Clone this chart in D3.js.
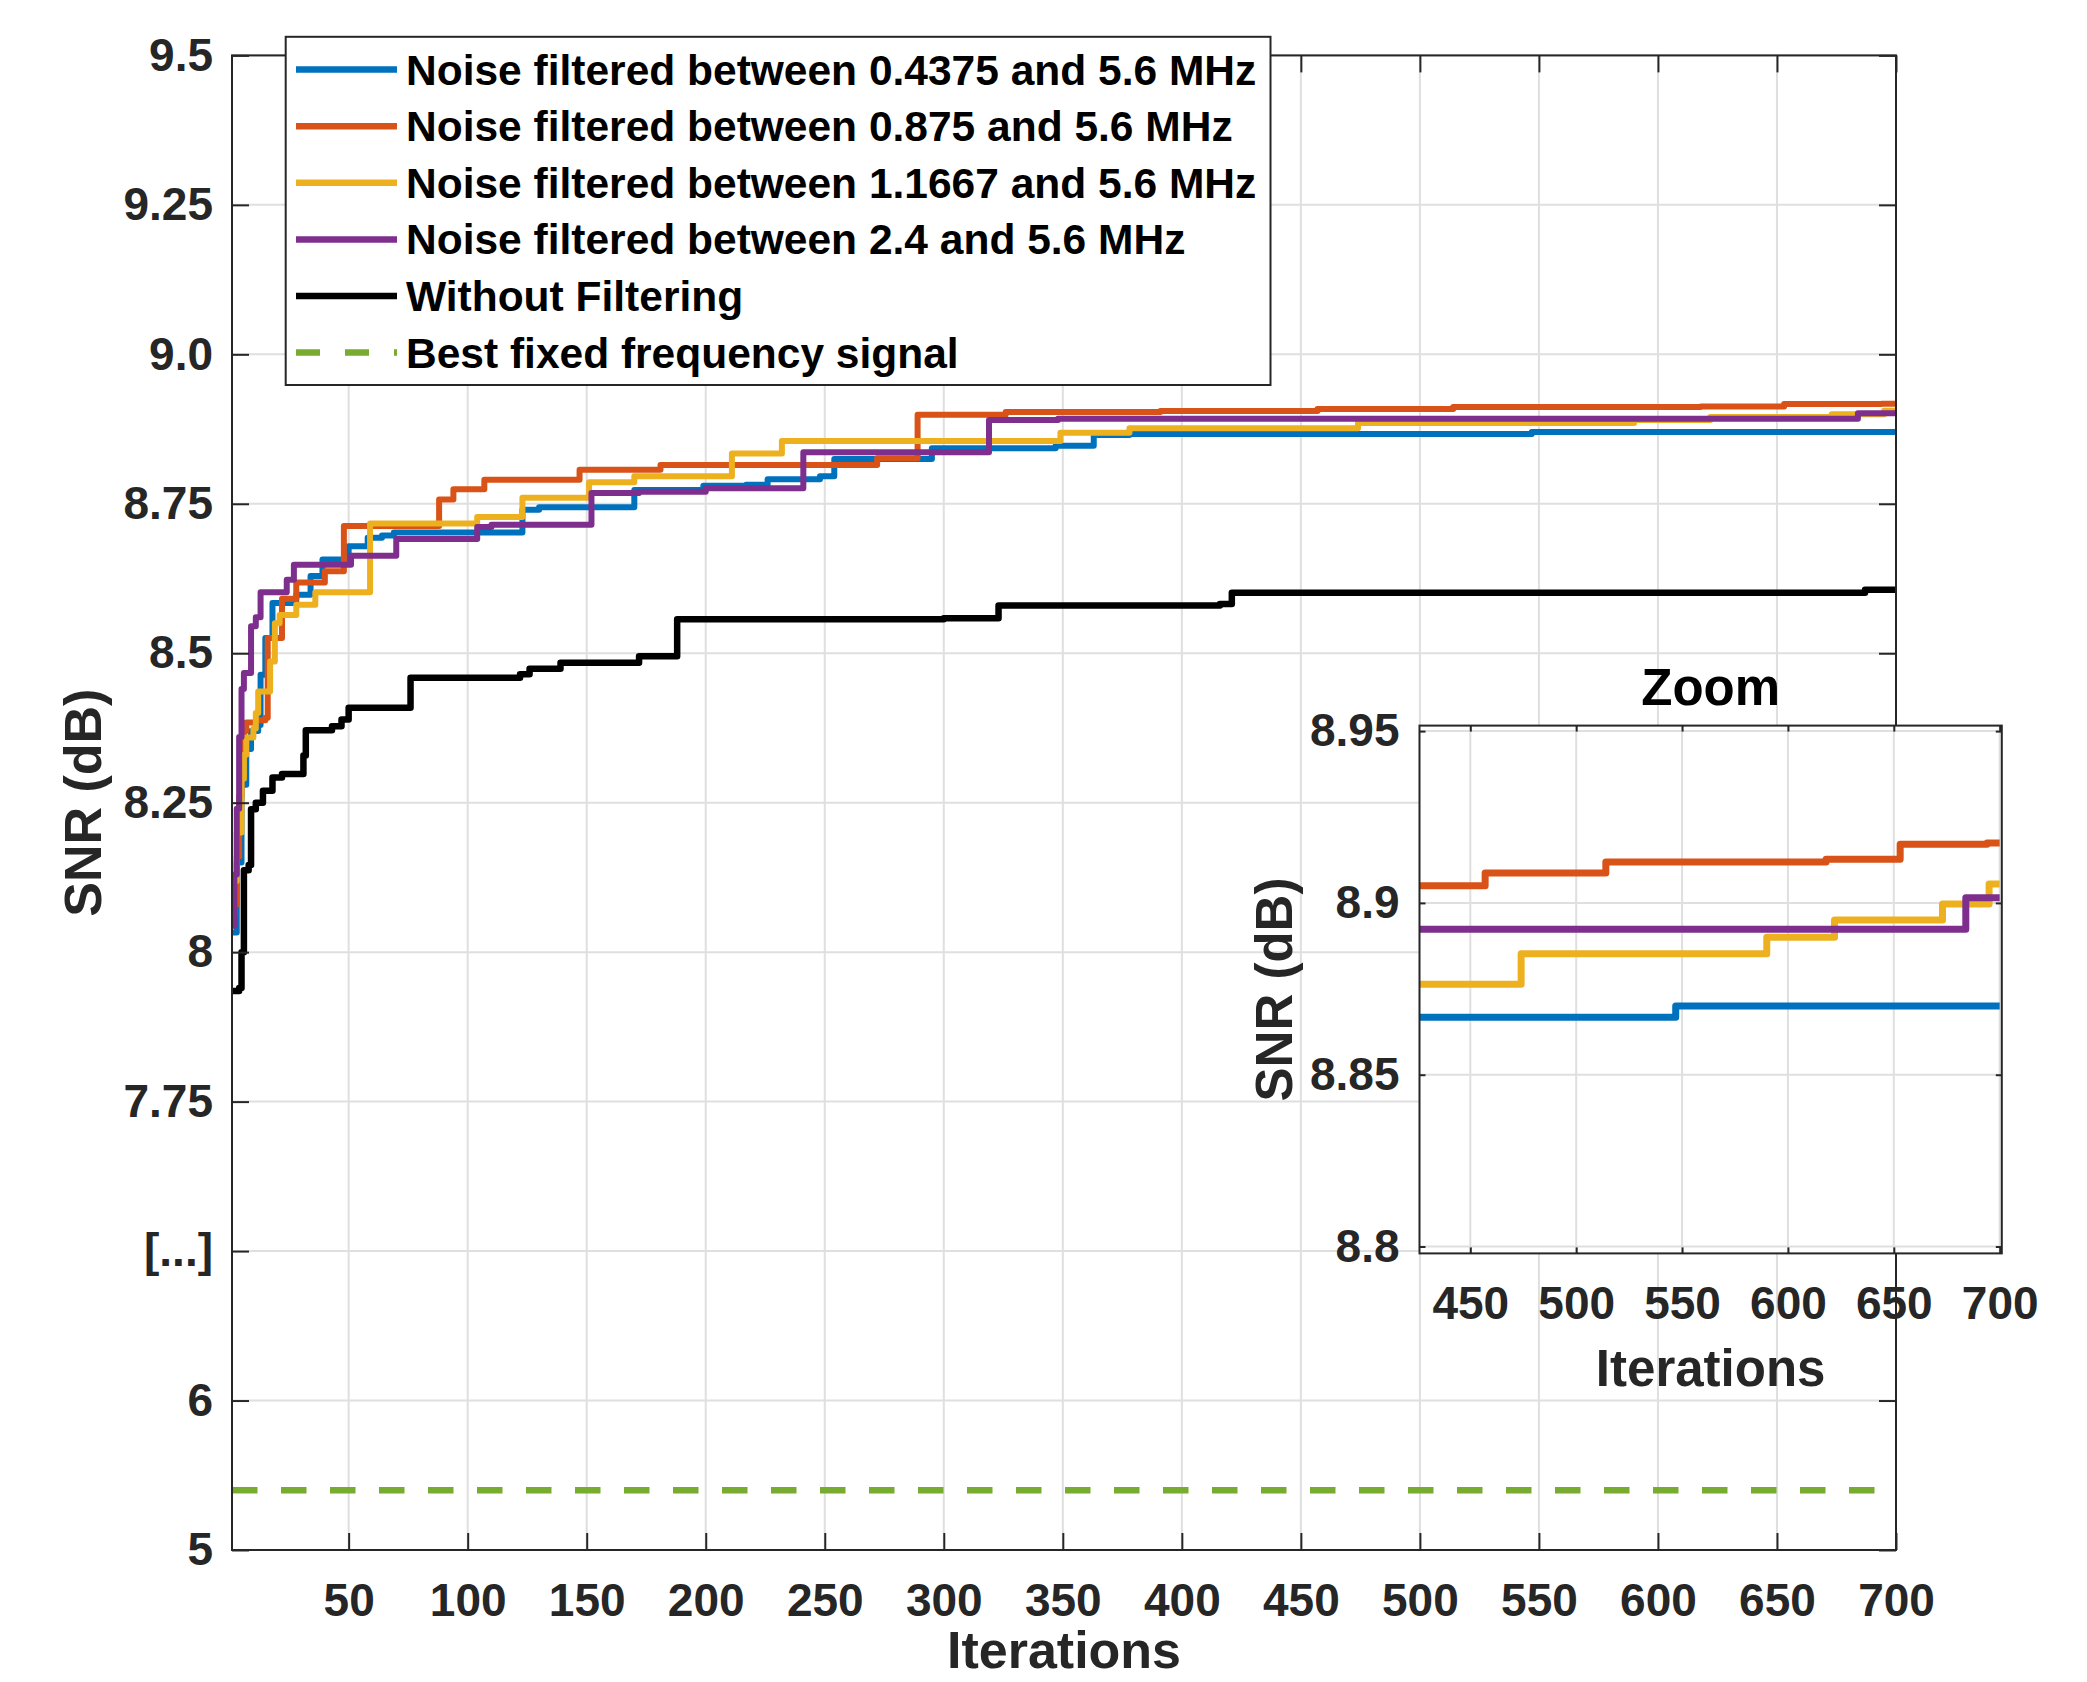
<!DOCTYPE html>
<html>
<head>
<meta charset="utf-8">
<script src="https://cdn.jsdelivr.net/npm/d3@7"></script>
<style>
body { margin: 0; background: #fff; }
svg text { font-family: "Liberation Sans", Arial, sans-serif; font-weight: bold; }
</style>
</head>
<body>
<script>
// ---- data ----
var iterTicks = [50, 100, 150, 200, 250, 300, 350, 400, 450, 500, 550, 600, 650, 700];
var snrTicks = [5, 6, 7.5, 7.75, 8, 8.25, 8.5, 8.75, 9, 9.25, 9.5];
var snrTickLabels = ['5', '6', '[...]', '7.75', '8', '8.25', '8.5', '8.75', '9.0', '9.25', '9.5'];
var zoomIterTicks = [450, 500, 550, 600, 650, 700];
var zoomSnrTicks = [8.8, 8.85, 8.9, 8.95];
var zoomSnrLabels = ['8.8', '8.85', '8.9', '8.95'];

var seriesNames = [
    'Noise filtered between 0.4375 and 5.6 MHz',
    'Noise filtered between 0.875 and 5.6 MHz',
    'Noise filtered between 1.1667 and 5.6 MHz',
    'Noise filtered between 2.4 and 5.6 MHz',
    'Without Filtering',
    'Best fixed frequency signal'
];

// [iteration, SNR dB] at every step of the best-so-far curve
var band04375 = [[1, 8.033], [3, 8.15], [5, 8.28], [7, 8.34], [9, 8.37], [12, 8.38], [13, 8.464],
    [15, 8.5255], [18, 8.584], [28, 8.598], [34, 8.629], [39, 8.657], [50, 8.679], [58, 8.693],
    [64, 8.697], [69, 8.702], [123, 8.74], [130, 8.744], [170, 8.773], [199, 8.78], [217, 8.782],
    [226, 8.791], [248, 8.796], [254, 8.825], [295, 8.843], [347, 8.847], [363, 8.865],
    [378, 8.8667], [547, 8.87], [700, 8.87]];
var band0875 = [[1, 8.06], [2, 8.08], [3, 8.16], [4, 8.26], [5, 8.33], [6, 8.37], [7, 8.384],
    [11, 8.388], [15, 8.392], [16, 8.5255], [22, 8.591], [28, 8.6185], [40, 8.637], [48, 8.713],
    [88, 8.757], [94, 8.7745], [107, 8.79], [147, 8.807], [181, 8.815], [272, 8.826], [289, 8.899],
    [326, 8.9035], [391, 8.905], [457, 8.9087], [514, 8.9119], [618, 8.9127], [653, 8.9171],
    [694, 8.9174], [700, 8.9174]];
var band11667 = [[1, 8.119], [3, 8.2], [5, 8.29], [6, 8.33], [7, 8.359], [10, 8.374], [11, 8.4],
    [12, 8.436], [17, 8.486], [19, 8.55], [21, 8.564], [28, 8.581], [36, 8.602], [59, 8.717],
    [104, 8.728], [123, 8.76], [151, 8.786], [170, 8.796], [211, 8.834], [232, 8.855],
    [349, 8.869], [378, 8.8763], [474, 8.8852], [590, 8.89], [622, 8.895], [673, 8.8997],
    [695, 8.9055], [700, 8.9055]];
var band24 = [[1, 8.044], [2, 8.13], [3, 8.24], [4, 8.36], [5, 8.44], [6, 8.467], [9, 8.545],
    [11, 8.56], [13, 8.602], [24, 8.623], [27, 8.648], [51, 8.663], [70, 8.691], [104, 8.711],
    [110, 8.715], [152, 8.768], [172, 8.77], [200, 8.776], [241, 8.836], [319, 8.89],
    [348, 8.8923], [684, 8.9015], [700, 8.9015]];
var noFilter = [[1, 7.935], [4, 7.94], [5, 8.0], [6, 8.137], [8, 8.146], [9, 8.239], [11, 8.25],
    [14, 8.27], [18, 8.292], [22, 8.298], [31, 8.329], [32, 8.371], [43, 8.378], [47, 8.389],
    [50, 8.409], [76, 8.459], [122, 8.465], [126, 8.474], [139, 8.484], [172, 8.495], [188, 8.557],
    [300, 8.5585], [323, 8.58], [416, 8.5825], [421, 8.601], [687, 8.606], [700, 8.606]];
var bestFixed = [[1, 5.4], [700, 5.4]];

var curves = [band04375, band0875, band11667, band24, noFilter];
var colors = ['#0072BD', '#D95319', '#EDB120', '#7E2F8E', '#000000', '#77AC30'];

// ---- layout ----
var W = 2087, H = 1682;
var axisColor = '#262626';
var gridColor = '#dfdfdf';
var mainBox = {left: 232, right: 1896, top: 55.4, bottom: 1550};
var zoomBox = {left: 1419.5, right: 2001.8, top: 725.6, bottom: 1253.4};

function styleAxis(g, size) {
    g.attr('font-size', size)
	.attr('font-family', null)
	.attr('fill', null);
    g.selectAll('path.domain').remove();
    g.selectAll('.tick line')
	.style('stroke', axisColor)
	.style('stroke-width', 2);
    g.selectAll('.tick text')
	.style('fill', axisColor);
}

function drawGrid(g, xs, ys, xv, yv, box) {
    g.selectAll('.vgrid')
	.data(xv)
	.enter().append('line')
	.attr('x1', function(d) { return xs(d); })
	.attr('x2', function(d) { return xs(d); })
	.attr('y1', box.top)
	.attr('y2', box.bottom)
	.style('stroke', gridColor)
	.style('stroke-width', 2);
    g.selectAll('.hgrid')
	.data(yv)
	.enter().append('line')
	.attr('y1', function(d) { return ys(d); })
	.attr('y2', function(d) { return ys(d); })
	.attr('x1', box.left)
	.attr('x2', box.right)
	.style('stroke', gridColor)
	.style('stroke-width', 2);
}

function drawBox(g, box) {
    g.append('rect')
	.attr('x', box.left)
	.attr('y', box.top)
	.attr('width', box.right - box.left)
	.attr('height', box.bottom - box.top)
	.style('fill', 'none')
	.style('stroke', axisColor)
	.style('stroke-width', 2);
}

function main() {
    var svg = d3.select('body').append('svg')
	.attr('width', W)
	.attr('height', H);

    // main axes: linear in iterations, broken SNR axis (5..6 | 6..7.5 | 7.5..9.5)
    var step = (mainBox.bottom - mainBox.top) / 10;
    var x = d3.scaleLinear().domain([1, 700]).range([mainBox.left, mainBox.right]);
    var y = d3.scaleLinear()
	.domain([5, 6, 7.5, 9.5])
	.range([mainBox.bottom, mainBox.bottom - step, mainBox.bottom - 2 * step, mainBox.top]);

    svg.append('clipPath').attr('id', 'clipMain')
	.append('rect')
	.attr('x', mainBox.left).attr('y', mainBox.top)
	.attr('width', mainBox.right - mainBox.left)
	.attr('height', mainBox.bottom - mainBox.top);

    drawGrid(svg.append('g'), x, y, iterTicks, snrTicks, mainBox);

    var line = d3.line()
	.x(function(d) { return x(d[0]); })
	.y(function(d) { return y(d[1]); })
	.curve(d3.curveStepAfter);

    var plot = svg.append('g').attr('clip-path', 'url(#clipMain)');
    plot.append('path')
	.attr('d', d3.line().x(function(d) { return x(d[0]); }).y(function(d) { return y(d[1]); })(bestFixed))
	.style('fill', 'none')
	.style('stroke', colors[5])
	.style('stroke-width', 6.5)
	.style('stroke-dasharray', '25.5,23.5');
    plot.selectAll('.curve')
	.data(curves)
	.enter().append('path')
	.attr('class', 'curve')
	.attr('d', line)
	.style('fill', 'none')
	.style('stroke', function(d, i) { return colors[i]; })
	.style('stroke-width', function(d, i) { return i == 4 ? 6.5 : 6; })
	.style('stroke-linejoin', 'round');

    drawBox(svg, mainBox);

    var gx = svg.append('g')
	.attr('transform', 'translate(0,' + mainBox.bottom + ')')
	.call(d3.axisBottom(x).tickValues(iterTicks).tickSize(-17).tickPadding(33));
    styleAxis(gx, 46);
    var gy = svg.append('g')
	.attr('transform', 'translate(' + mainBox.left + ',0)')
	.call(d3.axisLeft(y).tickValues(snrTicks).tickSize(-17).tickPadding(19)
	      .tickFormat(function(d, i) { return snrTickLabels[i]; }));
    styleAxis(gy, 46);
    var gt = svg.append('g')
	.attr('transform', 'translate(0,' + mainBox.top + ')')
	.call(d3.axisTop(x).tickValues(iterTicks).tickSize(-17).tickFormat(''));
    styleAxis(gt, 46);
    var gr = svg.append('g')
	.attr('transform', 'translate(' + mainBox.right + ',0)')
	.call(d3.axisRight(y).tickValues(snrTicks).tickSize(-17).tickFormat(''));
    styleAxis(gr, 46);

    svg.append('text')
	.attr('x', (mainBox.left + mainBox.right) / 2)
	.attr('y', 1668)
	.attr('text-anchor', 'middle')
	.attr('font-size', 52)
	.style('fill', axisColor)
	.text('Iterations');
    svg.append('text')
	.attr('transform', 'translate(101,' + ((mainBox.top + mainBox.bottom) / 2) + ') rotate(-90)')
	.attr('text-anchor', 'middle')
	.attr('font-size', 52)
	.style('fill', axisColor)
	.text('SNR (dB)');

    // legend
    var leg = svg.append('g');
    leg.append('rect')
	.attr('x', 285.7).attr('y', 36.8)
	.attr('width', 984.8).attr('height', 348.2)
	.style('fill', '#fff')
	.style('stroke', axisColor)
	.style('stroke-width', 2);
    var rows = leg.selectAll('.row')
	.data(seriesNames)
	.enter().append('g')
	.attr('transform', function(d, i) { return 'translate(0,' + (69.6 + 56.6 * i) + ')'; });
    rows.append('line')
	.attr('x1', 296).attr('x2', 397)
	.style('stroke', function(d, i) { return colors[i]; })
	.style('stroke-width', 6.5)
	.style('stroke-dasharray', function(d, i) { return i == 5 ? '24,25' : null; });
    rows.append('text')
	.attr('x', 406)
	.attr('y', 15)
	.attr('font-size', 42.5)
	.style('fill', '#000')
	.text(function(d) { return d; });

    // zoom inset
    var xi = d3.scaleLinear().domain([426, 701]).range([zoomBox.left, zoomBox.right]);
    var yi = d3.scaleLinear().domain([8.798, 8.9516]).range([zoomBox.bottom, zoomBox.top]);
    var inset = svg.append('g');
    inset.append('rect')
	.attr('x', zoomBox.left).attr('y', zoomBox.top)
	.attr('width', zoomBox.right - zoomBox.left)
	.attr('height', zoomBox.bottom - zoomBox.top)
	.style('fill', '#fff');
    svg.append('clipPath').attr('id', 'clipZoom')
	.append('rect')
	.attr('x', zoomBox.left).attr('y', zoomBox.top)
	.attr('width', zoomBox.right - zoomBox.left)
	.attr('height', zoomBox.bottom - zoomBox.top);
    drawGrid(inset.append('g'), xi, yi, zoomIterTicks, zoomSnrTicks, zoomBox);

    var lineZoom = d3.line()
	.x(function(d) { return xi(d[0]); })
	.y(function(d) { return yi(d[1]); })
	.curve(d3.curveStepAfter);
    inset.append('g').attr('clip-path', 'url(#clipZoom)')
	.selectAll('.zcurve')
	.data(curves.slice(0, 4))
	.enter().append('path')
	.attr('d', lineZoom)
	.style('fill', 'none')
	.style('stroke', function(d, i) { return colors[i]; })
	.style('stroke-width', 7)
	.style('stroke-linejoin', 'round');
    drawBox(inset, zoomBox);

    var zx = inset.append('g')
	.attr('transform', 'translate(0,' + zoomBox.bottom + ')')
	.call(d3.axisBottom(xi).tickValues(zoomIterTicks).tickSize(-6).tickPadding(33));
    styleAxis(zx, 46);
    var zy = inset.append('g')
	.attr('transform', 'translate(' + zoomBox.left + ',0)')
	.call(d3.axisLeft(yi).tickValues(zoomSnrTicks).tickSize(-6).tickPadding(20)
	      .tickFormat(function(d, i) { return zoomSnrLabels[i]; }));
    styleAxis(zy, 46);
    var zt = inset.append('g')
	.attr('transform', 'translate(0,' + zoomBox.top + ')')
	.call(d3.axisTop(xi).tickValues(zoomIterTicks).tickSize(-6).tickFormat(''));
    styleAxis(zt, 46);
    var zr = inset.append('g')
	.attr('transform', 'translate(' + zoomBox.right + ',0)')
	.call(d3.axisRight(yi).tickValues(zoomSnrTicks).tickSize(-6).tickFormat(''));
    styleAxis(zr, 46);

    var zcx = (zoomBox.left + zoomBox.right) / 2;
    inset.append('text')
	.attr('x', zcx).attr('y', 704.7)
	.attr('text-anchor', 'middle')
	.attr('font-size', 51)
	.style('fill', '#000')
	.text('Zoom');
    inset.append('text')
	.attr('x', zcx).attr('y', 1386)
	.attr('text-anchor', 'middle')
	.attr('font-size', 51)
	.style('fill', axisColor)
	.text('Iterations');
    inset.append('text')
	.attr('transform', 'translate(1292,' + ((zoomBox.top + zoomBox.bottom) / 2) + ') rotate(-90)')
	.attr('text-anchor', 'middle')
	.attr('font-size', 51)
	.style('fill', axisColor)
	.text('SNR (dB)');
}

main();
</script>
</body>
</html>
